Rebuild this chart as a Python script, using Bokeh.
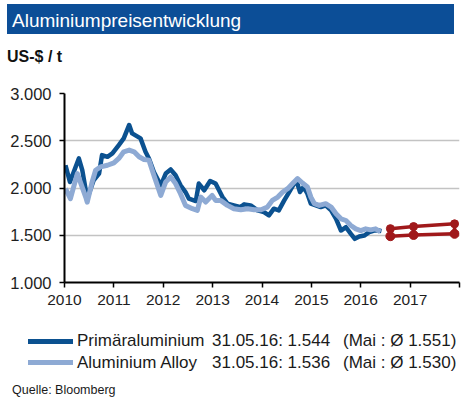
from bokeh.plotting import figure
from bokeh.layouts import column
from bokeh.models import Range1d, FixedTicker, ColumnDataSource, Div
from bokeh.embed import file_html
from bokeh.resources import INLINE

# ---------------- data ----------------
year_ticks = [2010, 2011, 2012, 2013, 2014, 2015, 2016, 2017, 2018]
year_labels = ["2010", "2011", "2012", "2013", "2014", "2015", "2016", "2017", ""]
value_ticks = [1000, 1500, 2000, 2500, 3000]
value_labels = ["1.000", "1.500", "2.000", "2.500", "3.000"]

prim_x = [2010.02, 2010.11, 2010.29, 2010.36, 2010.46, 2010.59, 2010.70, 2010.76, 2010.87, 2010.97,
          2011.10, 2011.20, 2011.31, 2011.37, 2011.54, 2011.64, 2011.71, 2011.81, 2011.95,
          2012.05, 2012.15, 2012.25, 2012.35, 2012.45, 2012.52, 2012.66, 2012.72, 2012.83, 2012.95,
          2013.06, 2013.20, 2013.30, 2013.43, 2013.57, 2013.64, 2013.77, 2013.91,
          2014.04, 2014.14, 2014.24, 2014.34, 2014.45, 2014.55, 2014.65, 2014.70, 2014.77, 2014.84, 2014.92, 2014.99,
          2015.09, 2015.19, 2015.29, 2015.40, 2015.50, 2015.60, 2015.70, 2015.80, 2015.88, 2015.97,
          2016.07, 2016.17, 2016.27, 2016.37, 2016.42]
prim_y = [2241, 2064, 2313, 2188, 1887, 2082, 2153, 2348, 2330, 2366,
          2454, 2525, 2667, 2578, 2525, 2383, 2313, 2170, 2029,
          2153, 2196, 2135, 2029, 1957, 1887, 1862, 2047, 1976, 2074,
          2047, 1904, 1834, 1816, 1798, 1827, 1816, 1763,
          1745, 1710, 1781, 1763, 1869, 1957, 2047, 2074, 1957, 2011, 1940, 1834,
          1816, 1798, 1816, 1763, 1674, 1550, 1585, 1514, 1462, 1486,
          1497, 1532, 1550, 1550, 1544]

alloy_x = [2010.02, 2010.12, 2010.26, 2010.32, 2010.43, 2010.46, 2010.56, 2010.63, 2010.73, 2010.87,
           2011.00, 2011.10, 2011.20, 2011.31, 2011.41, 2011.51, 2011.61, 2011.71, 2011.81, 2011.95,
           2012.05, 2012.15, 2012.25, 2012.35, 2012.45, 2012.59, 2012.69, 2012.76, 2012.86, 2012.99,
           2013.06, 2013.16, 2013.30, 2013.43, 2013.57, 2013.71, 2013.84, 2013.98,
           2014.11, 2014.21, 2014.32, 2014.42, 2014.52, 2014.62, 2014.72, 2014.82, 2014.92, 2014.99,
           2015.06, 2015.16, 2015.29, 2015.40, 2015.50, 2015.60, 2015.70, 2015.80, 2015.90,
           2016.00, 2016.10, 2016.20, 2016.30, 2016.40]
alloy_y = [1993, 1887, 2153, 2064, 1904, 1851, 2064, 2188, 2223, 2241,
           2266, 2313, 2383, 2401, 2383, 2330, 2302, 2295, 2135, 1922,
           2064, 2117, 2047, 1940, 1816, 1781, 1763, 1904, 1851, 1922,
           1869, 1869, 1816, 1781, 1770, 1781, 1770, 1770,
           1798, 1869, 1904, 1957, 1993, 2047, 2100, 2053, 2011, 1904,
           1834, 1816, 1834, 1798, 1727, 1674, 1656, 1603, 1568,
           1550, 1568, 1557, 1568, 1536]

fc_x = [2016.60, 2017.07, 2017.90]
fc_high = [1570, 1592, 1621]
fc_low = [1490, 1503, 1515]

title_text = "Aluminiumpreisentwicklung"
unit_text = "US-$ / t"
legend_names = ["Primäraluminium", "Aluminium Alloy"]
legend_dates = ["31.05.16: 1.544", "31.05.16: 1.536"]
legend_avgs = ["(Mai : Ø 1.551)", "(Mai : Ø 1.530)"]
source_text = "Quelle: Bloomberg"

# ---------------- style / layout ----------------
DARK = "#0b5190"
LIGHT = "#8eaad4"
RED = "#a0191b"
BAR = "#0c4e97"
FONT = "Liberation Sans"
TXT = "#1a1a1a"

W = 472
H_TOP, H_MAIN, H_BOT = 80, 236, 95


def abs_text(left, top, size, txt, color=TXT, weight="normal"):
    return (f'<div style="position:absolute;left:{left}px;top:{top}px;font-size:{size}px;'
            f'line-height:1;white-space:nowrap;color:{color};font-weight:{weight};">{txt}</div>')


def abs_box(left, top, w, h, color):
    return (f'<div style="position:absolute;left:{left}px;top:{top}px;width:{w}px;height:{h}px;'
            f'background:{color};"></div>')


def wrap(h, inner):
    return (f'<div style="position:relative;width:{W}px;height:{h}px;overflow:hidden;'
            f'font-family:\'{FONT}\';margin:0;padding:0;">{inner}</div>')


# ---- header ----
head_inner = (abs_box(7, 4, 447, 30, BAR)
              + abs_text(12, 11.4, 19, title_text, color="white")
              + abs_text(7, 48.5, 16, unit_text, color="#111111", weight="bold"))
top = Div(text=wrap(H_TOP, head_inner), width=W, height=H_TOP, margin=0)

# ---- main chart ----
p = figure(width=W, height=H_MAIN, output_backend="svg", toolbar_location=None,
           x_range=Range1d(2010, 2018), y_range=Range1d(1000, 3000),
           min_border_left=64, min_border_right=13, min_border_top=13, min_border_bottom=34)
p.outline_line_color = None
p.background_fill_color = "white"
p.border_fill_color = "white"

p.xgrid.visible = False
p.ygrid.ticker = FixedTicker(ticks=value_ticks)
p.ygrid.grid_line_color = "#c3c3c3"
p.ygrid.grid_line_width = 1.6

for ax in (p.xaxis[0], p.yaxis[0]):
    ax.axis_line_color = "black"
    ax.axis_line_width = 2
    ax.major_tick_line_color = "black"
    ax.major_tick_line_width = 1.5
    ax.major_tick_out = 5
    ax.major_tick_in = 0
    ax.minor_tick_out = 0
    ax.minor_tick_in = 0
    ax.major_label_text_font = FONT
    ax.major_label_text_color = "#1e1e1e"

p.xaxis.ticker = FixedTicker(ticks=year_ticks)
p.xaxis.major_label_overrides = {t: l for t, l in zip(year_ticks, year_labels)}
p.xaxis.major_label_text_font_size = "15.5px"
p.xaxis.major_label_standoff = 7

p.yaxis.ticker = FixedTicker(ticks=value_ticks)
p.yaxis.major_label_overrides = {t: l for t, l in zip(value_ticks, value_labels)}
p.yaxis.major_label_text_font_size = "16.5px"
p.yaxis.major_label_standoff = 8

p.line(prim_x, prim_y, line_color=DARK, line_width=4.5, line_join="round")
p.line(alloy_x, alloy_y, line_color=LIGHT, line_width=5, line_join="round")

fc = ColumnDataSource(dict(x=fc_x, hi=fc_high, lo=fc_low))
p.segment(x0="x", y0="hi", x1="x", y1="lo", source=fc, line_color=RED, line_width=3.5)
p.line("x", "hi", source=fc, line_color=RED, line_width=3.5)
p.line("x", "lo", source=fc, line_color=RED, line_width=3.5)
p.scatter("x", "hi", source=fc, size=8, fill_color=RED, line_color=RED)
p.scatter("x", "lo", source=fc, size=9, fill_color=RED, line_color=RED)

# ---- legend / footer ----
sw_y = [25, 46.7]
tx_top = [16.3, 37.9]
foot_inner = ""
for i, col in enumerate([DARK, LIGHT]):
    foot_inner += abs_box(28, sw_y[i] - 2.5, 45, 5, col)
    for cx, txt in ((77, legend_names[i]), (212, legend_dates[i]), (343, legend_avgs[i])):
        foot_inner += abs_text(cx, tx_top[i], 17, txt)
foot_inner += abs_text(12, 68.4, 12.5, source_text)
bot = Div(text=wrap(H_BOT, foot_inner), width=W, height=H_BOT, margin=0)

layout = column(top, p, bot, spacing=0)
open("out.html", "w").write(file_html(layout, INLINE))
